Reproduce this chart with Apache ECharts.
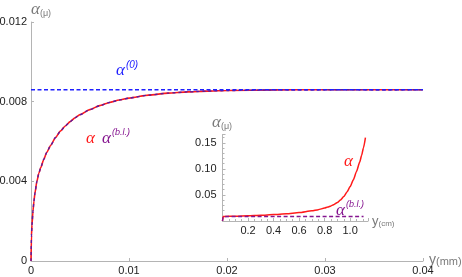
<!DOCTYPE html>
<html><head><meta charset="utf-8">
<script src="https://cdn.jsdelivr.net/npm/echarts@6/dist/echarts.min.js"></script>
<style>html,body{margin:0;padding:0;background:#fff}#c{width:462px;height:277px}</style>
</head><body><div id="c"></div>
<script>
// Main chart: alpha vs y (mm)
var mainY = [0, 0.00005, 0.0001, 0.0002, 0.0003, 0.0004, 0.0006, 0.0008, 0.001, 0.0013, 0.0016, 0.002, 0.0025, 0.003, 0.0035, 0.004, 0.0045, 0.005, 0.006, 0.007, 0.008, 0.009, 0.010, 0.012, 0.014, 0.016, 0.018, 0.020, 0.025, 0.030, 0.035, 0.040];
var mainAlpha = [0, 0.0013, 0.0018, 0.0025, 0.0030, 0.0034, 0.0040, 0.0044, 0.0047, 0.0051, 0.00545, 0.0058, 0.0062, 0.00652, 0.00678, 0.0070, 0.00719, 0.00735, 0.0076, 0.0078, 0.00796, 0.00808, 0.00818, 0.00833, 0.00843, 0.00849, 0.00853, 0.00856, 0.00859, 0.0086, 0.0086, 0.0086];
var alpha0 = 0.0086;
var mainXTicks = [0, 0.01, 0.02, 0.03, 0.04];
var mainYTicks = [0, 0.004, 0.008, 0.012];
// Inset: alpha vs y (cm)
var insetY = [0, 0.005, 0.1, 0.2, 0.3, 0.4, 0.5, 0.6, 0.7, 0.75, 0.8, 0.825, 0.85, 0.875, 0.9, 0.925, 0.95, 0.975, 1.0, 1.025, 1.05, 1.075, 1.09, 1.105, 1.12];
var insetAlpha = [0, 0.0086, 0.0093, 0.0101, 0.0111, 0.0123, 0.0139, 0.0162, 0.0195, 0.0218, 0.0248, 0.0268, 0.029, 0.0318, 0.0356, 0.0405, 0.047, 0.0555, 0.066, 0.079, 0.095, 0.113, 0.126, 0.141, 0.16];
var insetBLY = [0, 0.005, 0.2, 0.4, 0.6, 0.8, 1.0, 1.105];
var insetBL = [0, 0.0086, 0.0086, 0.0086, 0.0086, 0.0086, 0.0086, 0.0086];
var insetXTicks = [0.2, 0.4, 0.6, 0.8, 1.0];
var insetYTicks = [0.05, 0.10, 0.15];

function pairs(xs, ys){ return xs.map(function(x,i){ return [x, ys[i]]; }); }

var axisGrey = '#b4b4b4';
var txt = '#222';
var font = 'Liberation Sans';
var RED = '#ff1a1a', PUR = '#85148f', BLUE = '#1f1fff', GREY = '#7a7a7a';

var chart = echarts.init(document.getElementById('c'));
var greekRich = function(color, a, s){
  return {
    a: {fontFamily: 'Liberation Serif', fontStyle: 'italic', fontSize: a, fill: color, color: color, lineHeight: a + 2, verticalAlign: 'bottom'},
    s: {fontFamily: font, fontStyle: 'italic', fontSize: s, fill: color, color: color, verticalAlign: 'top', lineHeight: a + 2, padding: [0,0,0,1]},
    n: {fontFamily: font, fontSize: s, fill: color, color: color, verticalAlign: 'bottom', lineHeight: a + 2}
  };
};
var unitRich = function(a, s){
  return {
    y: {fontFamily: font, fontSize: a, fill: GREY, verticalAlign: 'bottom', lineHeight: a + 1},
    u: {fontFamily: font, fontSize: s, fill: GREY, verticalAlign: 'bottom', lineHeight: a + 1}
  };
};
function label(x, y, text, rich){
  return {type: 'text', x: x, y: y, style: {text: text, rich: rich, align: 'left', verticalAlign: 'top'}};
}

chart.setOption({
  animation: false,
  backgroundColor: '#fff',
  grid: [
    {left: 31, top: 22, width: 392, height: 239, containLabel: false, outerBoundsMode: 'none'},
    {left: 222.5, top: 134.5, width: 145.5, height: 86.5, containLabel: false, outerBoundsMode: 'none'}
  ],
  xAxis: [
    {type: 'value', gridIndex: 0, min: mainXTicks[0], max: mainXTicks[mainXTicks.length-1], interval: 0.01,
     axisLine: {lineStyle: {color: axisGrey, width: 1}},
     axisTick: {inside: true, length: 3, lineStyle: {color: axisGrey}},
     axisLabel: {color: txt, fontFamily: font, fontSize: 11, margin: 4,
       formatter: function(v){ return v === 0 ? '0' : String(+v.toFixed(3)); }},
     splitLine: {show: false}},
    {type: 'value', gridIndex: 1, min: 0, max: 1.14, interval: 0.2,
     axisLine: {lineStyle: {color: axisGrey, width: 1}},
     axisTick: {inside: true, length: 3, lineStyle: {color: axisGrey}},
     minorTick: {show: true, splitNumber: 4, length: 2, lineStyle: {color: axisGrey}},
     axisLabel: {color: txt, fontFamily: font, fontSize: 11, margin: 4, showMaxLabel: false,
       formatter: function(v){ return insetXTicks.some(function(t){return Math.abs(t-v)<1e-9;}) ? v.toFixed(1) : ''; }},
     splitLine: {show: false}}
  ],
  yAxis: [
    {type: 'value', gridIndex: 0, min: mainYTicks[0], max: mainYTicks[mainYTicks.length-1], interval: 0.004,
     axisLine: {show: true, lineStyle: {color: axisGrey, width: 1}},
     axisTick: {show: true, inside: true, length: 3, lineStyle: {color: axisGrey}},
     axisLabel: {color: txt, fontFamily: font, fontSize: 11, margin: 4,
       formatter: function(v){ return v === 0 ? '0' : String(+v.toFixed(3)); }},
     splitLine: {show: false}},
    {type: 'value', gridIndex: 1, min: 0, max: 0.166, interval: 0.05,
     axisLine: {show: true, lineStyle: {color: axisGrey, width: 1}},
     axisTick: {show: true, inside: true, length: 3, lineStyle: {color: axisGrey}},
     minorTick: {show: true, splitNumber: 5, length: 2, lineStyle: {color: axisGrey}},
     axisLabel: {color: txt, fontFamily: font, fontSize: 11, margin: 6, showMaxLabel: false,
       formatter: function(v){ return insetYTicks.some(function(t){return Math.abs(t-v)<1e-9;}) ? v.toFixed(2) : ''; }},
     splitLine: {show: false}}
  ],
  series: [
    {type: 'line', xAxisIndex: 0, yAxisIndex: 0, data: pairs(mainY, mainAlpha), smooth: 0.2, smoothMonotone: 'x', showSymbol: false,
     lineStyle: {color: RED, width: 1.6}, z: 2},
    {type: 'line', xAxisIndex: 0, yAxisIndex: 0, data: pairs(mainY, mainAlpha), smooth: 0.2, smoothMonotone: 'x', showSymbol: false,
     lineStyle: {color: '#5a1aa0', width: 1.4, type: [3, 3]}, z: 3},
    {type: 'line', xAxisIndex: 0, yAxisIndex: 0, data: [[mainXTicks[0], alpha0], [mainXTicks[mainXTicks.length-1], alpha0]], showSymbol: false,
     lineStyle: {color: BLUE, width: 1.4, type: [4, 2.5]}, z: 4},
    {type: 'line', xAxisIndex: 1, yAxisIndex: 1, data: pairs(insetY, insetAlpha), smooth: 0.2, smoothMonotone: 'x', showSymbol: false,
     lineStyle: {color: RED, width: 1.5}, z: 2},
    {type: 'line', xAxisIndex: 1, yAxisIndex: 1, data: pairs(insetBLY, insetBL), showSymbol: false,
     lineStyle: {color: PUR, width: 1.4, type: [4, 2.5]}, z: 3}
  ],
  graphic: [
    label(31, -1, '{a|α}{n|(μ)}', greekRich(GREY, 17, 9)),
    label(429, 252, '{y|y}{u|(mm)}', unitRich(14, 11)),
    label(116, 60, '{a|α}{s|(0)}', greekRich(BLUE, 17, 10)),
    label(86, 128, '{a|α}', greekRich(RED, 17, 10)),
    label(102, 128, '{a|α}{s|(b.l.)}', greekRich(PUR, 17, 9)),
    label(212, 112, '{a|α}{n|(μ)}', greekRich(GREY, 17, 9)),
    label(372, 214, '{y|y}{u|(cm)}', unitRich(13, 8)),
    label(344, 151, '{a|α}', greekRich(RED, 17, 10)),
    label(336, 200, '{a|α}{s|(b.l.)}', greekRich(PUR, 17, 9))
  ]
});
</script></body></html>
